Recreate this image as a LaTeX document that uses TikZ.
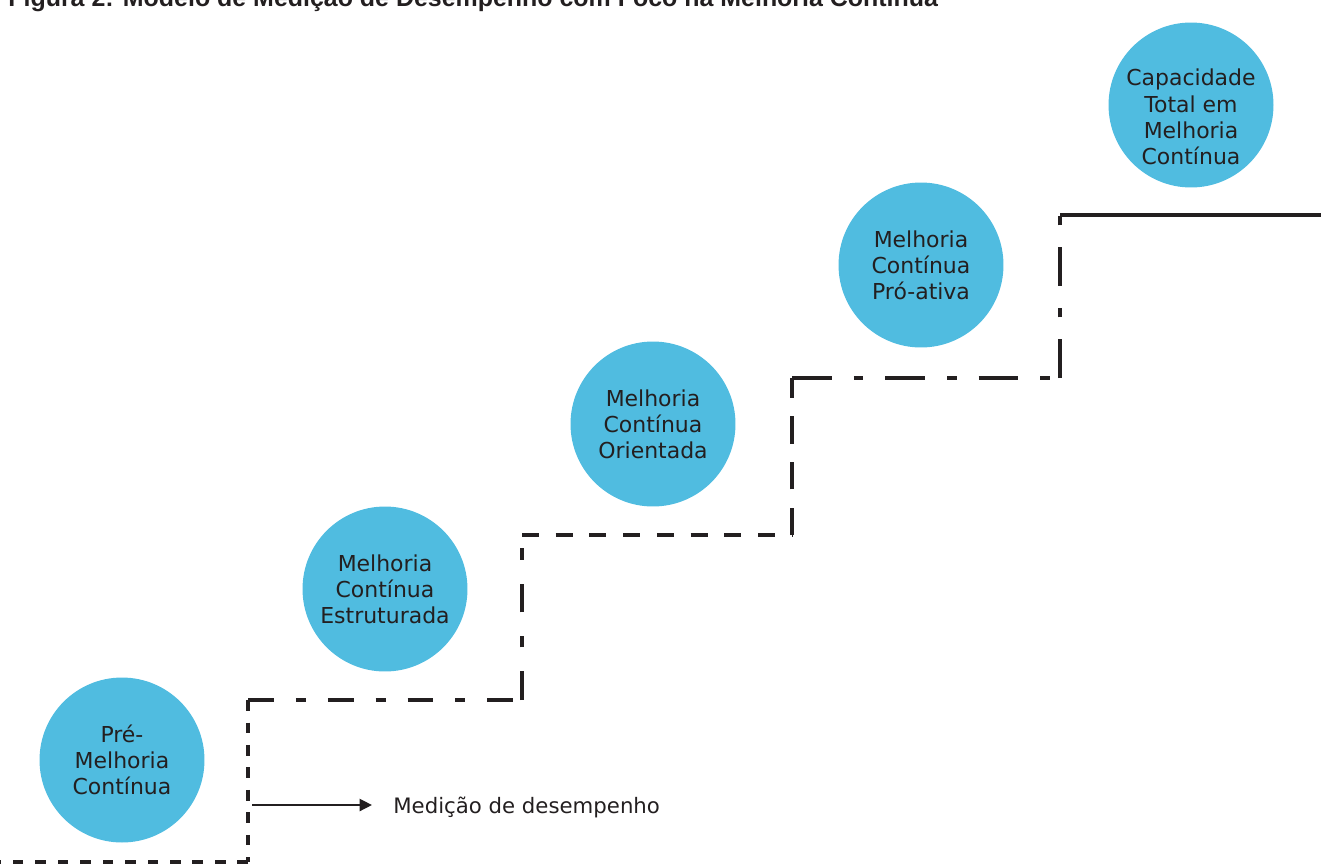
\documentclass[tikz,border=0pt]{standalone}
\usepackage{fontspec}
\setmainfont{DejaVu Sans}
\newfontfamily\titlefont{Liberation Sans}
\usetikzlibrary{arrows.meta}
\definecolor{stagecyan}{HTML}{50BCE0}
\definecolor{inkdark}{HTML}{231F20}

\begin{document}
\begin{tikzpicture}[x=0.02cm, y=-0.02cm,
  stage/.style={circle, fill=stagecyan, minimum size=3.3cm, inner sep=0pt, align=center,
    text=inkdark, font=\fontsize{12.5}{14.9}\selectfont},
  stagetext/.style={align=center, inner sep=0pt, text=inkdark, font=\fontsize{12.5}{14.9}\selectfont},
  stair/.style={inkdark, line width=2.6pt},
  dotline/.style={stair, dash pattern=on 6pt off 6.8pt},
  dashdotline/.style={stair, dash pattern=on 14.7pt off 12.5pt on 5.7pt off 12.5pt},
  dashline/.style={stair, dash pattern=on 9.6pt off 9.6pt}]
  \useasboundingbox (0,0) rectangle (1321,866);

  % Title (cut by the top edge)
  \node[anchor=base west, inner sep=0pt, text=inkdark,
        font=\titlefont\bfseries\fontsize{14.2}{16}\selectfont] (title) at (8,6)
        {Figura 2: Modelo de Medição de Desempenho com Foco na Melhoria Contínua};

  % Stages
  \node[stage] (pre) at (122,760) {Pré-\\Melhoria\\Contínua};
  \node[stage] (estruturada) at (385,589) {Melhoria\\Contínua\\Estruturada};
  \node[stage] (orientada) at (653,424) {Melhoria\\Contínua\\Orientada};
  \node[stage] (proativa) at (921,265) {Melhoria\\Contínua\\Pró-ativa};
  \node[stage] (capacidade) at (1191,105) {};
  \node[stagetext] (capacidadetxt) at (1191,117) {Capacidade\\Total em\\Melhoria\\Contínua};

  % Stair corners
  \coordinate (s0) at (0,862);
  \coordinate (s1) at (248,862);
  \coordinate (s2) at (248,700);
  \coordinate (s3) at (522,700);
  \coordinate (s4) at (522,535);
  \coordinate (s5) at (792,535);
  \coordinate (s6) at (792,378);
  \coordinate (s7) at (1060,378);
  \coordinate (s8) at (1060,215);
  \coordinate (s9) at (1321,215);

  % Stair: each step with its own line
  \draw[dotline] (s1) -- (s0);
  \draw[dotline] (s2) -- (s1);
  \draw[dashdotline] (s2) -- (s3);
  \draw[stair, dash pattern=on 16.4pt off 13.5pt on 6.5pt off 13.5pt] (s3) -- (s4);
  \draw[dashline] (s4) -- (s5);
  \draw[stair, dash pattern=on 15.5pt off 10.5pt] (s5) -- (s6);
  \draw[stair, dash pattern=on 22.7pt off 12.5pt on 5.4pt off 12.5pt] (s6) -- (s7);
  \draw[stair, dash pattern=on 22pt off 12.5pt on 5.4pt off 12.5pt] (s7) -- (s8);
  \draw[stair] (s8) -- (s9);

  % Measurement arrow
  \coordinate (medstart) at (252,805);
  \node[anchor=west, inner sep=0pt, text=inkdark, font=\fontsize{12.1}{14}\selectfont] (medlabel) at (393,807) {Medição de desempenho};
  \draw[inkdark, line width=0.8pt, -{Triangle[length=7pt, width=7pt]}] (medstart) -- ([xshift=-12pt]medlabel.west |- medstart);
\end{tikzpicture}
\end{document}
